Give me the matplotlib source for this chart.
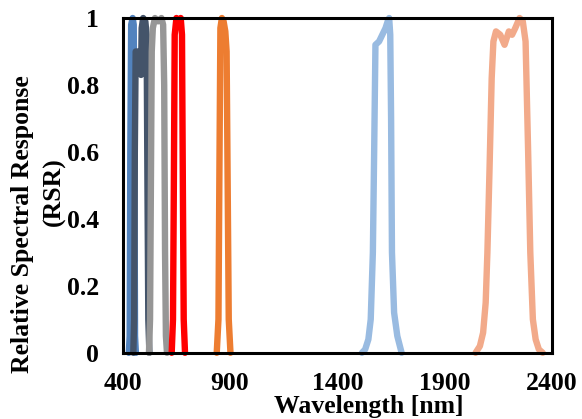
import matplotlib
matplotlib.use("Agg")
import matplotlib.pyplot as plt

plt.rcParams['font.family'] = ['Liberation Serif', 'DejaVu Serif']
plt.rcParams['font.weight'] = 'bold'

# Relative spectral response per band: wavelength [nm] and RSR
coastal_wl = [428, 432, 435, 439, 446, 451, 454, 457, 461]
coastal_rsr = [0, 0.05, 0.6, 0.98, 1.0, 0.98, 0.6, 0.05, 0]

blue_wl = [449, 453, 456, 460, 470, 480, 485, 488, 495, 505, 511, 515, 519, 524]
blue_rsr = [0, 0.1, 0.6, 0.9, 0.9, 0.86, 0.83, 0.97, 1.0, 0.99, 0.95, 0.5, 0.1, 0]

green_wl = [522, 527, 531, 535, 540, 550, 565, 580, 588, 593, 597, 601, 606]
green_rsr = [0, 0.1, 0.5, 0.9, 0.97, 1.0, 0.99, 1.0, 0.98, 0.8, 0.3, 0.05, 0]

red_wl = [628, 634, 638, 642, 650, 660, 670, 676, 680, 684, 690]
red_rsr = [0, 0.1, 0.5, 0.95, 1.0, 0.99, 1.0, 0.95, 0.5, 0.1, 0]

nir_wl = [838, 846, 850, 855, 862, 870, 878, 884, 889, 894, 902]
nir_rsr = [0, 0.1, 0.5, 0.97, 1.0, 0.99, 0.96, 0.9, 0.5, 0.1, 0]

swir1_wl = [1515, 1530, 1545, 1556, 1566, 1572, 1578, 1595, 1610, 1625, 1635,
            1642, 1647, 1651, 1655, 1665, 1680, 1700]
swir1_rsr = [0, 0.01, 0.04, 0.1, 0.3, 0.6, 0.92, 0.93, 0.95, 0.97, 0.99,
             1.0, 0.95, 0.7, 0.3, 0.12, 0.05, 0]

swir2_wl = [2045, 2065, 2080, 2092, 2100, 2110, 2120, 2128, 2140, 2160, 2180, 2200,
            2215, 2230, 2250, 2265, 2278, 2290, 2300, 2312, 2325, 2340, 2358]
swir2_rsr = [0, 0.02, 0.06, 0.15, 0.3, 0.55, 0.82, 0.93, 0.96, 0.95, 0.92, 0.96,
             0.95, 0.97, 1.0, 0.99, 0.93, 0.6, 0.3, 0.1, 0.04, 0.01, 0]

bands = [
    (coastal_wl, coastal_rsr, '#5283BE'),
    (blue_wl, blue_rsr, '#44546A'),
    (green_wl, green_rsr, '#969696'),
    (red_wl, red_rsr, '#FF0000'),
    (nir_wl, nir_rsr, '#ED7D31'),
    (swir1_wl, swir1_rsr, '#99BBE1'),
    (swir2_wl, swir2_rsr, '#F2AA8A'),
]

fig = plt.figure(figsize=(5.82, 4.19), dpi=100)
ax = fig.add_axes([0.211, 0.158, 0.737, 0.799])

for wl, rsr, col in bands:
    ax.plot(wl, rsr, color=col, lw=4.6, solid_capstyle='round',
            solid_joinstyle='round', clip_on=False)

ax.set_xlim(400, 2400)
ax.set_ylim(0, 1)
ax.set_xticks([400, 900, 1400, 1900, 2400])
ax.set_yticks([0, 0.2, 0.4, 0.6, 0.8, 1])
ax.set_yticklabels(['0', '0.2', '0.4', '0.6', '0.8', '1'])
ax.tick_params(axis='x', length=0, pad=14, labelsize=18.5)
ax.tick_params(axis='y', length=0, pad=17, labelsize=18.5)
for s in ax.spines.values():
    s.set_linewidth(2.2)
    s.set_color('black')

ax.set_xlabel('Wavelength [nm]', fontsize=18.5, fontweight='bold', labelpad=0)
ax.xaxis.set_label_coords(0.573, -0.125)
ax.text(-0.235, 0.385, 'Relative Spectral Response', transform=ax.transAxes,
        rotation=90, ha='center', va='center', fontsize=18.5, fontweight='bold')
ax.text(-0.16, 0.48, '(RSR)', transform=ax.transAxes,
        rotation=90, ha='center', va='center', fontsize=18.5, fontweight='bold')

fig.savefig('out.png', dpi=100)
